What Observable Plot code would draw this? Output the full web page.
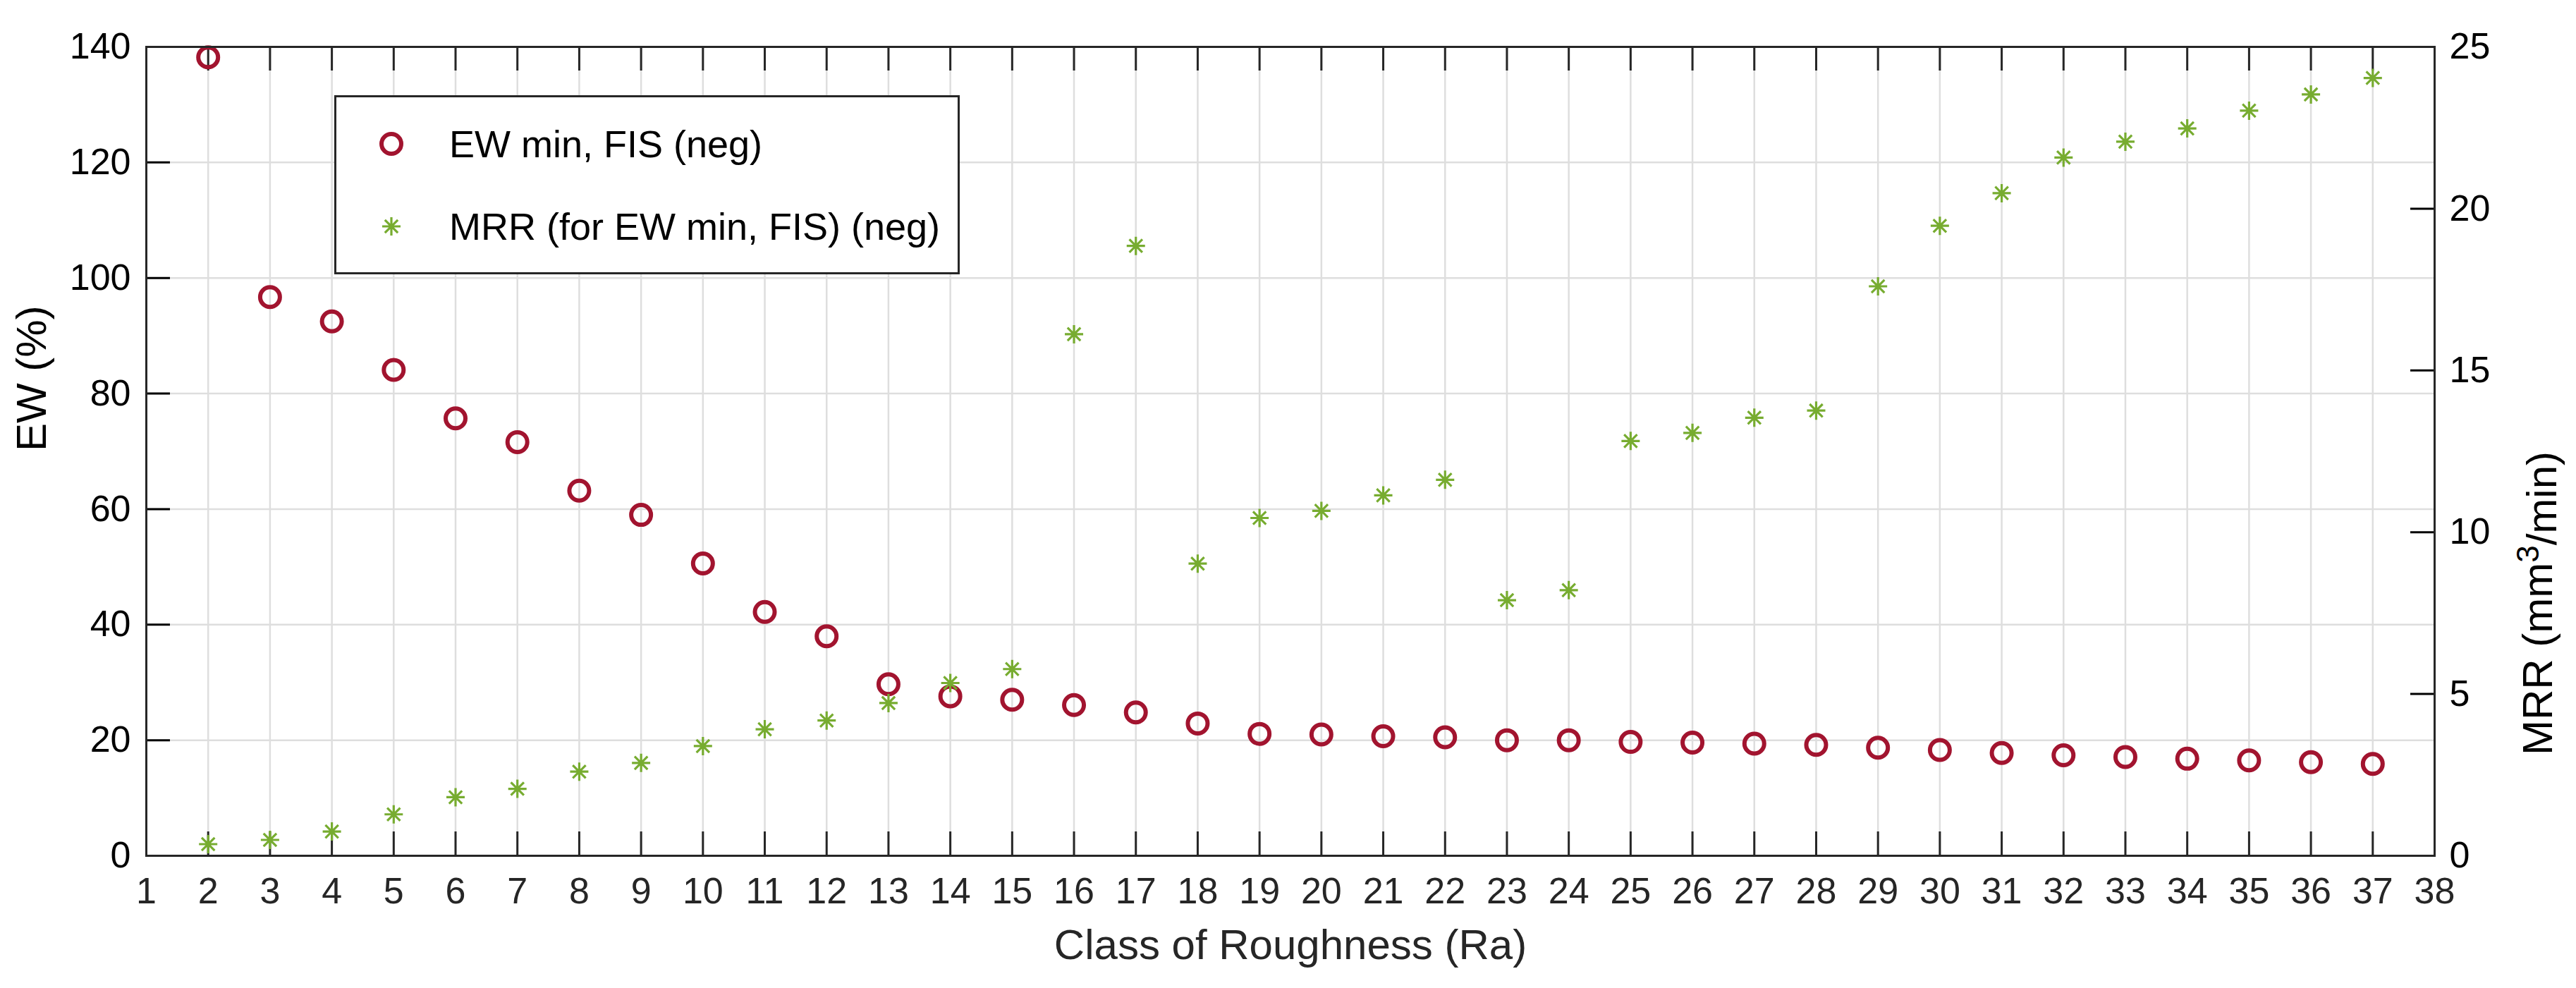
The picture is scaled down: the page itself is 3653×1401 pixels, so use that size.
<!DOCTYPE html>
<html>
<head>
<meta charset="utf-8">
<script src="https://cdn.jsdelivr.net/npm/d3@7"></script>
<script src="https://cdn.jsdelivr.net/npm/@observablehq/plot@0.6"></script>
<style>
  html, body { margin: 0; padding: 0; background: #fff; }
  #wrap { position: relative; width: 3653px; height: 1401px; font-family: "Liberation Sans", Arial, sans-serif; color: #000; }
  #legend { position: absolute; left: 474px; top: 135px; width: 887px; height: 254px; box-sizing: border-box; border: 3px solid #262626; background: #fff; }
  #legend .mk { position: absolute; width: 40px; height: 40px; overflow: visible; }
  #legend .lab { position: absolute; font-size: 54px; line-height: 1; white-space: nowrap; transform: translateY(-50%); }
</style>
</head>
<body>
<div id="wrap"></div>
<script>
// ---- data ----
const classes = [2,3,4,5,6,7,8,9,10,11,12,13,14,15,16,17,18,19,20,21,22,23,24,25,26,27,28,29,30,31,32,33,34,35,36,37];
const ewMin = [138.2,96.7,92.5,84.1,75.7,71.6,63.2,59.0,50.6,42.2,38.0,29.7,27.6,27.0,26.1,24.8,22.9,21.1,21.0,20.7,20.5,20.0,20.0,19.7,19.6,19.4,19.2,18.7,18.3,17.8,17.4,17.1,16.8,16.5,16.2,15.9];
const mrr = [0.36,0.49,0.75,1.28,1.81,2.07,2.6,2.87,3.39,3.91,4.18,4.72,5.34,5.77,16.12,18.85,9.03,10.44,10.66,11.14,11.62,7.9,8.21,12.82,13.07,13.54,13.76,17.6,19.47,20.48,21.58,22.07,22.48,23.03,23.53,24.04];
const xTicks = [1,2,3,4,5,6,7,8,9,10,11,12,13,14,15,16,17,18,19,20,21,22,23,24,25,26,27,28,29,30,31,32,33,34,35,36,37,38];
const ewTicks = [0,20,40,60,80,100,120,140];
const mrrTicks = [0,5,10,15,20,25];
const seriesNames = ["EW min, FIS (neg)", "MRR (for EW min, FIS) (neg)"];
const xLabel = "Class of Roughness (Ra)";
const yLabelLeft = "EW (%)";
const yLabelRight = "MRR (mm3/min)";

const RED = "#A2142F", GREEN = "#77AC30", GRID = "#dedede", AX = "#262626";
const W = 3653, H = 1401;
const mL = 207, mR = 201, mT = 66, mB = 188;
const plotW = W - mL - mR, plotH = H - mT - mB;
const k = ewTicks[ewTicks.length - 1] / mrrTicks[mrrTicks.length - 1]; // right axis -> left axis

const data = classes.map((c, i) => ({c, ew: ewMin[i], mrr: mrr[i]}));

const asterisk = {
  draw(ctx, size) {
    const r = Math.sqrt(size / Math.PI);
    const d = r * Math.SQRT1_2;
    ctx.moveTo(-r, 0); ctx.lineTo(r, 0);
    ctx.moveTo(0, -r); ctx.lineTo(0, r);
    ctx.moveTo(-d, -d); ctx.lineTo(d, d);
    ctx.moveTo(-d, d); ctx.lineTo(d, -d);
  }
};

const chart = Plot.plot({
  width: W, height: H,
  marginLeft: mL, marginRight: mR, marginTop: mT, marginBottom: mB,
  style: {fontFamily: "'Liberation Sans', Arial, sans-serif", fontSize: "52px", background: "#fff", color: "#000"},
  x: {domain: [xTicks[0], xTicks[xTicks.length - 1]]},
  y: {domain: [ewTicks[0], ewTicks[ewTicks.length - 1]]},
  marks: [
    Plot.ruleX(xTicks, {x: d => d, stroke: GRID, strokeWidth: 2.5}),
    Plot.ruleY(ewTicks, {y: d => d, stroke: GRID, strokeWidth: 2.5}),
    Plot.tickX(xTicks, {x: d => d, insetTop: plotH - 34, stroke: AX, strokeWidth: 3}),
    Plot.tickX(xTicks, {x: d => d, insetBottom: plotH - 34, stroke: AX, strokeWidth: 3}),
    Plot.tickY(ewTicks, {y: d => d, insetRight: plotW - 34, stroke: "#000", strokeWidth: 3}),
    Plot.tickY(mrrTicks, {y: d => d * k, insetLeft: plotW - 34, stroke: "#000", strokeWidth: 3}),
    Plot.dot(data, {x: "c", y: "ew", r: 14, stroke: RED, strokeWidth: 6, fill: "none"}),
    Plot.dot(data, {x: "c", y: d => d.mrr * k, r: 13, symbol: asterisk, stroke: GREEN, strokeWidth: 3.2, fill: "none"}),
    Plot.frame({stroke: AX, strokeWidth: 3}),
    Plot.axisX(xTicks, {tickSize: 0, tickPadding: 31, fontSize: 52, label: null, fill: "#262626"}),
    Plot.axisY(ewTicks, {anchor: "left", tickSize: 0, tickPadding: 22, fontSize: 52, label: null, fill: "#000"}),
    Plot.axisY(mrrTicks.map(v => v * k), {anchor: "right", tickSize: 0, tickPadding: 21, fontSize: 52, label: null, fill: "#000",
      tickFormat: d => String(Math.round(d / k))}),
    Plot.text([xLabel], {text: d => d, frameAnchor: "bottom", dy: 127, fontSize: 60, lineAnchor: "middle", fill: "#262626"}),
    Plot.text([yLabelLeft], {text: d => d, frameAnchor: "left", dx: -162, rotate: -90, fontSize: 60, lineAnchor: "middle", fill: "#000"}),
    Plot.text([yLabelRight], {text: d => d, frameAnchor: "right", dx: 147, rotate: -90, fontSize: 60, lineAnchor: "middle", fill: "#000"})
  ]
});

// superscript in right title
d3.select(chart).selectAll("text").filter(function() { return this.textContent === yLabelRight; })
  .each(function() {
    const t = d3.select(this);
    t.text(null);
    t.append("tspan").text("MRR (mm");
    t.append("tspan").attr("dy", "-0.42em").attr("font-size", "44px").text("3");
    t.append("tspan").attr("dy", "0.42em").text("/min)");
  });

const wrap = document.getElementById("wrap");
wrap.appendChild(chart);

// legend
const legend = document.createElement("div");
legend.id = "legend";
wrap.appendChild(legend);
const rows = [
  {name: seriesNames[0], cy: 66, kind: "circle"},
  {name: seriesNames[1], cy: 183, kind: "star"}
];
rows.forEach(r => {
  const svg = d3.create("svg").attr("class", "mk").attr("viewBox", "-20 -20 40 40")
    .style("left", (78 - 20) + "px").style("top", (r.cy - 20) + "px");
  if (r.kind === "circle") {
    svg.append("circle").attr("r", 14).attr("fill", "none").attr("stroke", RED).attr("stroke-width", 6);
  } else {
    const p = d3.path();
    asterisk.draw(p, 13 * 13 * Math.PI);
    svg.append("path").attr("d", p.toString()).attr("fill", "none").attr("stroke", GREEN).attr("stroke-width", 3.2);
  }
  legend.appendChild(svg.node());
  const lab = document.createElement("div");
  lab.className = "lab";
  lab.style.left = "160px";
  lab.style.top = r.cy + "px";
  lab.textContent = r.name;
  legend.appendChild(lab);
});
</script>
</body>
</html>
